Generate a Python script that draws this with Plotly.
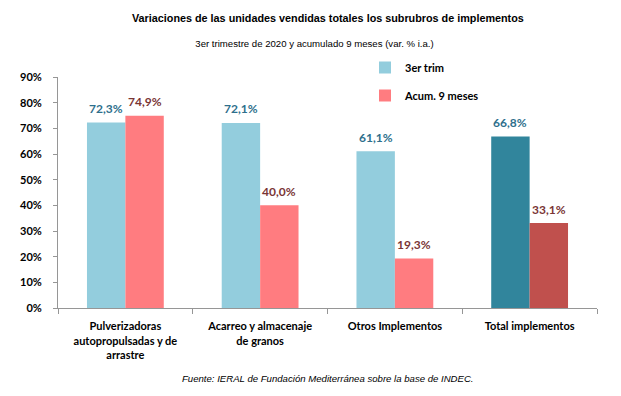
import plotly.graph_objects as go

categories = ["Pulverizadoras<br>autopropulsadas y de<br>arrastre",
              "Acarreo y almacenaje<br>de granos",
              "Otros Implementos",
              "Total implementos"]
trim3 = [72.3, 72.1, 61.1, 66.8]
acum9 = [74.9, 40.0, 19.3, 33.1]
trim3_colors = ["#93CDDD", "#93CDDD", "#93CDDD", "#31859C"]
acum9_colors = ["#FF7C80", "#FF7C80", "#FF7C80", "#C0504D"]
y_ticks = [0, 10, 20, 30, 40, 50, 60, 70, 80, 90]
y_tick_labels = [f"{v}%" for v in y_ticks]

SANS = "Liberation Sans, Arial"

fig = go.Figure()
fig.add_trace(go.Bar(x=categories, y=trim3, name="3er trim",
                     marker=dict(color=trim3_colors, line=dict(width=0)),
                     legendgroup="a"))
fig.add_trace(go.Bar(x=categories, y=acum9, name="Acum. 9 meses",
                     marker=dict(color=acum9_colors, line=dict(width=0)),
                     legendgroup="b"))

def fmt(v):
    return f"{v:.1f}".replace(".", ",") + "%"

bw = 135 * (1 - 0.43) / 2
anns = []
for c, v in zip(categories, trim3):
    anns.append(dict(x=c, y=v, xref="x", yref="y", text=fmt(v), showarrow=False,
                     xshift=-bw / 2, yshift=14,
                     font=dict(family="Lato", size=12, color="#2E6F8C", weight="bold")))
for c, v in zip(categories, acum9):
    anns.append(dict(x=c, y=v, xref="x", yref="y", text=fmt(v), showarrow=False,
                     xshift=bw / 2, yshift=14,
                     font=dict(family="Lato", size=12, color="#7A3535", weight="bold")))

anns.append(dict(x=0.5, y=1, xref="paper", yref="paper", xanchor="center", yanchor="middle",
                 text="Variaciones de las unidades vendidas totales los subrubros de implementos",
                 showarrow=False, yshift=59,
                 font=dict(family=SANS, size=10.8, color="#000000", weight="bold")))
anns.append(dict(x=0.5, y=0, xref="paper", yref="paper", xanchor="center", yanchor="middle",
                 text="Fuente: IERAL de Fundación Mediterránea sobre la base de INDEC.",
                 showarrow=False, yshift=-70,
                 font=dict(family=SANS, size=9.6, color="#000000", style="italic")))

fig.update_layout(
    width=613, height=388,
    margin=dict(l=50, r=24, t=69, b=88, autoexpand=False),
    paper_bgcolor="white", plot_bgcolor="white",
    barmode="group", bargap=0.43, bargroupgap=0,
    annotations=anns,
    title=dict(text="3er trimestre de 2020 y acumulado 9 meses (var. % i.a.)",
               x=0.5, xanchor="center", y=1 - 36 / 388, yanchor="middle",
               font=dict(family=SANS, size=9.6, color="#000000")),
    showlegend=True,
    legend=dict(x=(357 - 50) / 539, xanchor="left", y=1 + (69 - 45) / 231, yanchor="top",
                traceorder="grouped", tracegroupgap=9,
                font=dict(family="Lato", size=11, color="#000000", weight="bold"),
                itemwidth=30, bgcolor="rgba(0,0,0,0)"),
    xaxis=dict(showline=True, linecolor="#969696", linewidth=1, tickangle=0,
               ticks="outside", tickson="boundaries", ticklen=5, tickcolor="#969696",
               ticklabelstandoff=8,
               tickfont=dict(family="Lato", size=11, color="#000000", weight="bold"),
               showgrid=False, fixedrange=True),
    yaxis=dict(range=[0, 90], tickvals=y_ticks, ticktext=y_tick_labels,
               showline=True, linecolor="#969696", linewidth=1,
               ticks="outside", ticklen=4, tickcolor="#969696",
               ticklabelstandoff=9,
               tickfont=dict(family="Lato", size=11, color="#000000", weight="bold"),
               showgrid=False, zeroline=False, fixedrange=True),
)

fig.write_html("out.html")
